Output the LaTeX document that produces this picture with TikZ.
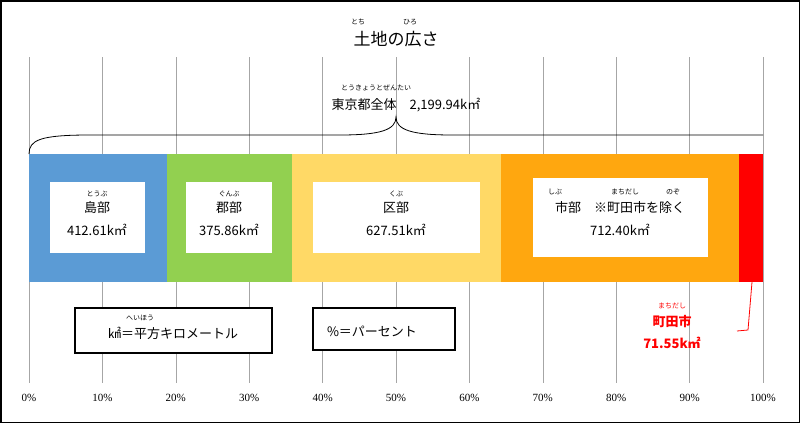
\documentclass[tikz,border=0pt]{standalone}
\usepackage{fontspec}
\setmainfont{Liberation Serif}
\newfontfamily\jp{Noto Sans CJK JP}
\definecolor{cblue}{HTML}{5B9BD5}
\definecolor{cgreen}{HTML}{92D050}
\definecolor{cyel}{HTML}{FFD966}
\definecolor{corg}{HTML}{FFA70F}
\definecolor{cred}{HTML}{FF0000}
\begin{document}
\begin{tikzpicture}[x=1pt,y=-1pt,
  txt/.style={font=\jp\fontsize{13}{13}\selectfont,inner sep=0},
  rb/.style={font=\jp\fontsize{7}{7}\selectfont,inner sep=0},
  pct/.style={font=\fontsize{11}{11}\selectfont,inner sep=0},
  wbox/.style={fill=white,draw=none},
  kbox/.style={fill=white,draw=black,line width=1.2pt}]
\useasboundingbox (0,0) rectangle (800,423);
\draw[line width=1.5pt] (0.75,0.75) rectangle (799.25,422.25);
% grid
\foreach \i in {0,...,10}{
  \draw[gray!70,line width=0.6pt] ({29+73.4*\i},57) -- ({29+73.4*\i},383);
  \node[pct] (p\i) at ({29+73.4*\i},398) {\pgfmathparse{int(\i*10)}\pgfmathresult\%};
}
% bars
\fill[cblue] (29,154) rectangle (167,282);
\fill[cgreen] (167,154) rectangle (292,282);
\fill[cyel] (292,154) rectangle (501,282);
\fill[corg] (501,154) rectangle (739,282);
\fill[cred] (739,154) rectangle (763,282);
\fill[wbox] (50,182) rectangle (145,253);
\fill[wbox] (186,182) rectangle (272,253);
\fill[wbox] (313,182) rectangle (480,253);
\fill[wbox] (533,178) rectangle (708,257);
% box texts
\node[rb] (r1) at (97,194) {とうぶ};
\node[txt] (t1) at (97,208) {島部};
\node[txt] (v1) at (97,230) {412.61k㎡};
\node[rb] (r2) at (229,194) {ぐんぶ};
\node[txt] (t2) at (229,208) {郡部};
\node[txt] (v2) at (229,230) {375.86k㎡};
\node[rb] (r3) at (396,194) {くぶ};
\node[txt] (t3) at (396,208) {区部};
\node[txt] (v3) at (396,230) {627.51k㎡};
\node[rb] (r4a) at (555,192) {しぶ};
\node[rb] (r4b) at (625,192) {まちだし};
\node[rb] (r4c) at (673,192) {のぞ};
\node[txt] (t4) at (620,208) {市部　※町田市を除く};
\node[txt] (v4) at (620,230) {712.40k㎡};
% title
\node[rb] (rt1) at (358,22) {とち};
\node[rb] (rt2) at (410,22) {ひろ};
\node[txt,font=\jp\fontsize{17}{17}\selectfont] (title) at (396,39) {土地の広さ};
\node[rb] (rtot) at (376,88) {とうきょうとぜんたい};
\node[txt] (tot) at (406,105) {東京都全体　2,199.94k㎡};
% brace
\draw[line width=0.8pt] (29,154) .. controls (29,140) and (40,135) .. (90,135) -- (340,135) .. controls (380,135) and (396,130) .. (396,117)
  .. controls (396,130) and (412,135) .. (452,135) -- (763,135);
% legend boxes
\draw[kbox] (75,308) rectangle (272,353);
\node[rb] (rk) at (140,318) {へいほう};
\node[txt] (k) at (173,333) {㎢＝平方キロメートル};
\draw[kbox] (313,308) rectangle (455,350);
\node[txt] (pc) at (372,331) {\%＝パーセント};
% machida
\node[rb,text=cred] (rm) at (672,306) {まちだし};
\node[txt,text=cred,font=\jp\bfseries\fontsize{13}{13}\selectfont] (m) at (672,322) {町田市};
\node[txt,text=cred,font=\jp\bfseries\fontsize{13}{13}\selectfont] (mv) at (672,343) {71.55k㎡};
\coordinate (ma) at (752,282);
\draw[cred,line width=0.8pt] (ma) -- (748,330) -- (737,331);
\end{tikzpicture}
\end{document}
